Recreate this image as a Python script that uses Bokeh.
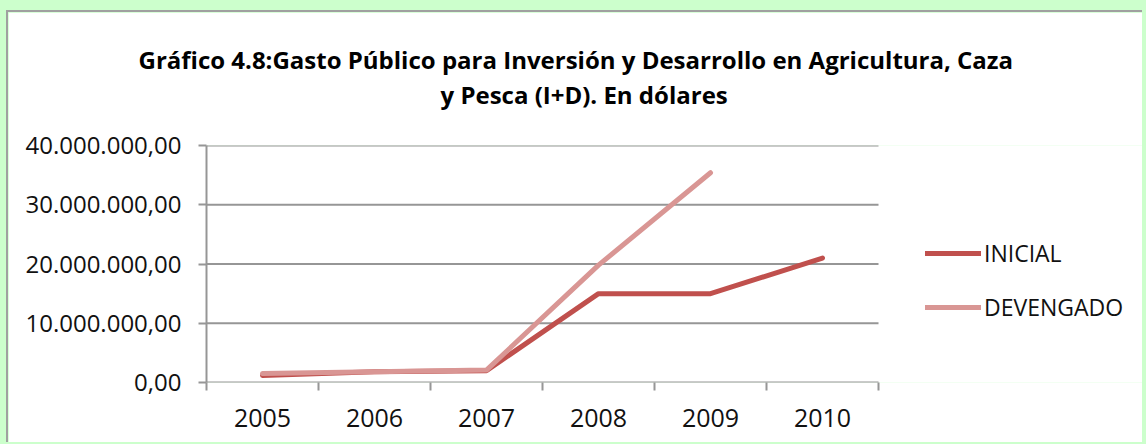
import math
from bokeh.plotting import figure
from bokeh.models import (Range1d, LinearAxis, FixedTicker, Legend,
                          LegendItem, Title, ColumnDataSource)
from bokeh.embed import file_html
from bokeh.resources import INLINE

# ---- data ----
years = ["2005", "2006", "2007", "2008", "2009", "2010"]
inicial = [1.2e6, 1.8e6, 2.0e6, 15.0e6, 15.0e6, 21.0e6]
devengado = [1.5e6, 1.8e6, 2.1e6, 19.8e6, 35.4e6, math.nan]
series_names = ["INICIAL", "DEVENGADO"]
y_ticks = [0, 10e6, 20e6, 30e6, 40e6]
y_tick_labels = ["0,00", "10.000.000,00", "20.000.000,00", "30.000.000,00", "40.000.000,00"]
title_lines = ["Gráfico 4.8:Gasto Público para Inversión y Desarrollo en Agricultura, Caza",
               "y Pesca (I+D). En dólares"]

# ---- layout / style ----
FONT = "Open Sans"
GRAY = "#969696"
C_INI = "#C0504D"
C_DEV = "#D99694"
TXT = "#111111"
PLOT_W, PLOT_H = 1136, 432
BORDER_L = 198
CAT_PX = 112            # pixel width of one year slot

# category slots: each year occupies one unit, centred at i + 0.5
n = len(years)
xpos = [i + 0.5 for i in range(n)]
bounds = list(range(n + 1))
x_end = (PLOT_W - BORDER_L) / CAT_PX   # frame extends under the legend area

p = figure(width=PLOT_W, height=PLOT_H,
           x_range=Range1d(0, x_end), y_range=Range1d(0, 40e6),
           x_axis_location=None, y_axis_location=None,
           output_backend="svg", toolbar_location=None,
           min_border_left=BORDER_L, min_border_right=0, min_border_top=133,
           min_border_bottom=62, border_fill_color="white",
           background_fill_color="white", outline_line_color=None)
p.styles = {"border-top": "2px solid #a0a0a0", "border-left": "2px solid #a0a0a0",
            "margin-top": "10px", "margin-left": "6px"}
p.xgrid.visible = False
p.ygrid.visible = False

# y axis
ya = LinearAxis(ticker=FixedTicker(ticks=y_ticks),
                major_label_overrides={t: l for t, l in zip(y_ticks, y_tick_labels)},
                axis_line_color=GRAY, axis_line_width=2,
                major_tick_line_color=GRAY, major_tick_line_width=2,
                major_tick_out=8, major_tick_in=0, minor_tick_line_color=None,
                major_label_text_font=FONT, major_label_text_font_size="24px",
                major_label_text_color=TXT, major_label_standoff=17)
p.add_layout(ya, "left")

# boundary tick axis (closest to frame)
ta = LinearAxis(ticker=FixedTicker(ticks=bounds),
                major_label_overrides={t: "" for t in bounds},
                major_label_text_font_size="1px", major_label_standoff=0,
                axis_line_color=None,
                major_tick_line_color=GRAY, major_tick_line_width=2,
                major_tick_out=8, major_tick_in=0, minor_tick_line_color=None)
p.add_layout(ta, "below")

# year label axis
xa = LinearAxis(ticker=FixedTicker(ticks=xpos),
                major_label_overrides={x: y for x, y in zip(xpos, years)},
                axis_line_color=None, major_tick_line_color=None,
                major_tick_out=0, major_tick_in=0, minor_tick_line_color=None,
                major_label_text_font=FONT, major_label_text_font_size="25px",
                major_label_text_color=TXT, major_label_standoff=18)
p.add_layout(xa, "below")

# horizontal gridlines limited to the category span
p.segment(x0=[0] * len(y_ticks), x1=[n] * len(y_ticks), y0=y_ticks, y1=y_ticks,
          line_color=GRAY, line_width=2)

src = ColumnDataSource(dict(x=xpos, ini=inicial, dev=devengado))
r1 = p.line("x", "ini", source=src, line_color=C_INI, line_width=5,
            line_cap="round", line_join="round")
r2 = p.line("x", "dev", source=src, line_color=C_DEV, line_width=5,
            line_cap="round", line_join="round")

legend = Legend(items=[LegendItem(label=series_names[0], renderers=[r1]),
                       LegendItem(label=series_names[1], renderers=[r2])],
                location=(719, 59), glyph_width=56, glyph_height=30,
                label_height=30, label_standoff=3, spacing=22, padding=0,
                margin=0, border_line_color=None, background_fill_alpha=0,
                label_text_font=FONT, label_text_font_size="23px",
                label_text_color=TXT)
p.add_layout(legend)

spacer = Title(text="\u00a0", text_font=FONT, text_font_size="24px", standoff=0)
t2 = Title(text=title_lines[1], align="left", offset=234, text_font=FONT,
           text_font_size="24px", text_font_style="bold", text_color="black",
           standoff=0)
t1 = Title(text=title_lines[0], align="left", offset=-68, text_font=FONT,
           text_font_size="24px", text_font_style="bold", text_color="black",
           standoff=0)
p.add_layout(spacer, "above")
p.add_layout(t2, "above")
p.add_layout(t1, "above")

html = file_html(p, INLINE)
html = html.replace("</head>",
                    "<style>html,body{background-color:#CCFFCC;overflow:hidden;"
                    "margin:0 !important;padding:0 !important;}</style></head>", 1)
open("out.html", "w").write(html)
